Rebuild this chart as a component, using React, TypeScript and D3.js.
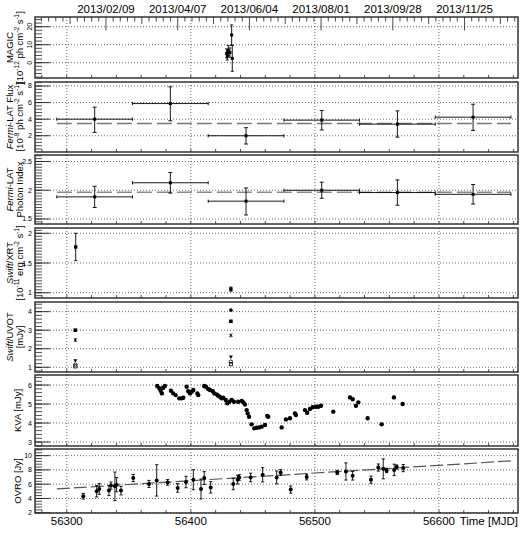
import React from 'react';
import * as d3 from 'd3';

const W = 520;
const H = 535;
const X0 = 35;
const X1 = 518;
const FONT = "'Liberation Sans', Arial, Helvetica, sans-serif";

// ---- time axis ----
const mjdTicks = [56300, 56400, 56500, 56600];
const dateMjd = [56331.6, 56389.4, 56447.2, 56505.0, 56562.8, 56620.6];
const dateLabels = ['2013/02/09', '2013/04/07', '2013/06/04', '2013/08/01', '2013/09/28', '2013/11/25'];

// ---- MAGIC ----
const magicMjd = [56428.9, 56429.4, 56430.2, 56431.5, 56432.9, 56433.4];
const magicFlux = [5.2, 3.7, 6.7, 5.6, 15.4, 2.4];
const magicErr = [2.5, 2.2, 2.8, 2.6, 5.6, 7.2];

// ---- Fermi-LAT (61 day bins) ----
const fermiEdges = [56292, 56353, 56414, 56475, 56536, 56597, 56658];
const fermiFlux = [4.0, 5.88, 2.0, 3.88, 3.4, 4.24];
const fermiFluxLo = [2.4, 3.8, 1.0, 2.7, 1.83, 2.64];
const fermiFluxHi = [5.45, 7.9, 2.97, 5.05, 5.0, 5.8];
const fermiFluxMean = 3.48;
const fermiIndex = [1.885, 2.13, 1.81, 2.0, 1.96, 1.93];
const fermiIndexLo = [1.70, 1.95, 1.57, 1.86, 1.74, 1.76];
const fermiIndexHi = [2.07, 2.31, 2.04, 2.14, 2.18, 2.10];
const fermiIndexMean = 1.965;

// ---- Swift/XRT ----
const xrtMjd = [56307.2, 56432.3];
const xrtFlux = [1.77, 1.06];
const xrtErr = [0.23, 0.035];

// ---- Swift/UVOT (one array per filter, two epochs) ----
const uvotMjd = [56306.9, 56432.3];
const uvotV = [3.0, 3.48];
const uvotB = [NaN, 4.08];
const uvotU = [2.47, 2.72];
const uvotW1 = [1.35, 1.55];
const uvotM2 = [1.15, 1.3];
const uvotW2 = [1.05, 1.17];

// ---- KVA ----
const kvaMjd = [
  56372.9, 56374.6, 56375.7, 56376.7, 56377.8, 56379.1, 56384.0, 56385.8, 56387.8, 56390.7,
  56392.6, 56393.9, 56396.6, 56397.9, 56399.3, 56400.7, 56402.0, 56405.2, 56406.0, 56410.8,
  56412.2, 56414.0, 56415.4, 56417.6, 56418.9, 56420.8, 56422.1, 56423.5, 56424.8, 56426.1,
  56428.1, 56429.4, 56431.0, 56432.9, 56434.8, 56438.2, 56441.0, 56442.3, 56443.6, 56445.0,
  56445.8, 56446.9, 56449.0, 56451.1, 56453.1, 56455.2, 56457.1, 56459.8, 56461.6, 56462.4,
  56473.2, 56476.7, 56479.9, 56483.9, 56484.7, 56492.0, 56493.8, 56496.0, 56498.2, 56500.9,
  56502.7, 56504.9, 56514.8, 56528.3, 56530.5, 56533.1, 56535.0, 56542.5, 56553.8, 56563.7,
  56570.7,
];
const kvaFlux = [
  5.95, 5.83, 5.70, 5.56, 5.86, 5.95, 5.70, 5.56, 5.47, 5.30,
  5.30, 5.33, 5.91, 5.68, 5.56, 5.65, 5.74, 5.56, 5.47, 5.95,
  5.91, 5.79, 5.74, 5.68, 5.56, 5.51, 5.44, 5.38, 5.30, 5.33,
  5.21, 5.04, 5.12, 5.21, 5.12, 5.12, 5.16, 5.09, 4.98, 4.68,
  4.51, 4.33, 3.93, 3.72, 3.75, 3.77, 3.81, 3.90, 4.37, 4.33,
  3.77, 4.19, 4.25, 4.51, 4.42, 4.68, 4.54, 4.74, 4.83, 4.86,
  4.86, 4.91, 4.60, 5.35, 5.25, 4.91, 5.09, 4.25, 3.93, 5.35,
  5.00,
];

// ---- OVRO ----
const ovroMjd = [
  56313.3, 56324.1, 56326.2, 56334.0, 56335.6, 56338.8, 56340.2, 56343.7, 56353.6, 56366.3,
  56372.5, 56381.3, 56389.4, 56396.1, 56402.0, 56408.2, 56410.8, 56416.0, 56434.2, 56437.7,
  56439.0, 56448.2, 56457.9, 56469.2, 56472.4, 56480.5, 56493.4, 56518.0, 56525.0, 56530.4,
  56545.2, 56551.1, 56555.1, 56557.8, 56563.9, 56565.9, 56571.2,
];
const ovroFlux = [
  4.31, 5.0, 5.33, 5.1, 5.8, 5.7, 5.93, 5.1, 6.86, 6.03,
  6.53, 6.25, 5.47, 6.3, 6.63, 5.33, 6.86, 5.55, 6.03, 6.63,
  6.94, 6.94, 7.32, 6.94, 7.64, 5.24, 7.0, 7.64, 7.78, 7.18,
  6.63, 8.33, 8.15, 7.92, 8.0, 8.4, 8.25,
];
const ovroErr = [
  0.4, 0.8, 0.75, 0.7, 0.5, 2.0, 1.0, 0.6, 0.5, 0.5,
  2.2, 0.4, 0.6, 0.8, 1.4, 1.4, 0.9, 0.8, 0.8, 0.6,
  0.4, 0.6, 1.0, 0.9, 0.4, 0.5, 0.4, 0.3, 1.2, 0.6,
  0.5, 0.5, 1.4, 0.3, 0.8, 0.3, 0.5,
];
const ovroFitMjd = [56292, 56658];
const ovroFitFlux = [5.33, 9.26];

// ---- panel layout ----
type Seg = { t: string; it?: boolean; sup?: boolean };
type Panel = {
  top: number; bottom: number; domain: [number, number];
  ticks: number[]; minor: number; rotLabels?: boolean; fmt?: (v: number) => string;
  title: Seg[][];
};

const panels: Panel[] = [
  { top: 17, bottom: 78, domain: [-8.5, 25.4], ticks: [0, 10, 20], minor: 2, rotLabels: true,
    title: [[{ t: 'MAGIC' }], [{ t: '[10' }, { t: '-12', sup: true }, { t: ' ph cm' }, { t: '-2', sup: true }, { t: ' s' }, { t: '-1', sup: true }, { t: ']' }]] },
  { top: 82, bottom: 152, domain: [0.04, 8.48], ticks: [2, 4, 6, 8], minor: 0.4,
    title: [[{ t: 'Fermi', it: true }, { t: '-LAT Flux' }], [{ t: '[10' }, { t: '-8', sup: true }, { t: ' ph cm' }, { t: '-2', sup: true }, { t: ' s' }, { t: '-1', sup: true }, { t: ']' }]] },
  { top: 155, bottom: 224, domain: [1.413, 2.613], ticks: [1.5, 2, 2.5], minor: 0.05,
    title: [[{ t: 'Fermi', it: true }, { t: '-LAT' }], [{ t: 'Photon Index' }]] },
  { top: 228, bottom: 298, domain: [0.911, 2.089], ticks: [1, 1.5, 2], minor: 0.05,
    title: [[{ t: 'Swift', it: true }, { t: '/XRT' }], [{ t: '[10' }, { t: '-11', sup: true }, { t: ' erg cm' }, { t: '-2', sup: true }, { t: ' s' }, { t: '-1', sup: true }, { t: ']' }]] },
  { top: 302, bottom: 372, domain: [0.746, 4.52], ticks: [1, 2, 3, 4], minor: 0.2,
    title: [[{ t: 'Swift', it: true }, { t: '/UVOT' }], [{ t: '[mJy]' }]] },
  { top: 375, bottom: 446, domain: [2.79, 6.53], ticks: [3, 4, 5, 6], minor: 0.2,
    title: [[{ t: 'KVA [mJy]' }]] },
  { top: 449, bottom: 513, domain: [1.96, 10.93], ticks: [2, 4, 6, 8, 10], minor: 0.4,
    title: [[{ t: 'OVRO [Jy]' }]] },
];

const x = d3.scaleLinear().domain([56274.4, 56663.7]).range([X0, X1]);
const yScales = panels.map((p) => d3.scaleLinear().domain(p.domain).range([p.bottom, p.top]));

const ErrV = ({ cx, y0, y1, cap = 2 }: { cx: number; y0: number; y1: number; cap?: number }) => (
  <g stroke="#000" strokeWidth={0.9}>
    <line x1={cx} x2={cx} y1={y0} y2={y1} />
    <line x1={cx - cap} x2={cx + cap} y1={y0} y2={y0} />
    <line x1={cx - cap} x2={cx + cap} y1={y1} y2={y1} />
  </g>
);

const ErrH = ({ x0, x1, cy, cap = 1.6 }: { x0: number; x1: number; cy: number; cap?: number }) => (
  <g stroke="#000" strokeWidth={0.9}>
    <line x1={x0} x2={x1} y1={cy} y2={cy} />
    <line x1={x0} x2={x0} y1={cy - cap} y2={cy + cap} />
    <line x1={x1} x2={x1} y1={cy - cap} y2={cy + cap} />
  </g>
);

const Sq = ({ cx, cy, s = 3.4, open = false }: { cx: number; cy: number; s?: number; open?: boolean }) => (
  <rect x={cx - s / 2} y={cy - s / 2} width={s} height={s}
    fill={open ? 'none' : '#000'} stroke="#000" strokeWidth={open ? 0.8 : 0} />
);

function Title({ lines, cy }: { lines: Seg[][]; cy: number }) {
  const bases = lines.length === 2 ? [12.5, 23] : [20.5];
  return (
    <g>
      {lines.map((line, li) => {
        let prevSup = false;
        return (
          <text key={li} transform={`translate(${bases[li]},${cy}) rotate(-90)`}
            textAnchor="middle" fontSize={9.5} fontFamily={FONT} fill="#000">
            {line.map((s, i) => {
              const dy = s.sup && !prevSup ? -3.6 : !s.sup && prevSup ? 3.6 : 0;
              prevSup = !!s.sup;
              return (
                <tspan key={i} dy={dy || undefined} fontStyle={s.it ? 'italic' : undefined}
                  fontSize={s.sup ? 6.5 : undefined}>{s.t}</tspan>
              );
            })}
          </text>
        );
      })}
    </g>
  );
}

function PanelFrame({ p, y }: { p: Panel; y: d3.ScaleLinear<number, number> }) {
  const [lo, hi] = p.domain;
  const minors = d3.range(Math.ceil(lo / p.minor) * p.minor, hi, p.minor);
  const xMinor = d3.range(56280, 56664, 20);
  const fmt = (v: number) => String(v);
  return (
    <g>
      {/* grid */}
      {mjdTicks.map((m) => (
        <line key={'gx' + m} x1={x(m)} x2={x(m)} y1={p.top} y2={p.bottom}
          stroke="#444" strokeWidth={0.8} strokeDasharray="1,2" />
      ))}
      {p.ticks.map((t) => (
        <line key={'gy' + t} x1={X0} x2={X1} y1={y(t)} y2={y(t)}
          stroke="#444" strokeWidth={0.8} strokeDasharray="1,2" />
      ))}
      {/* y minor/major ticks */}
      {minors.map((v, i) => (
        <line key={'my' + i} x1={X0} x2={X0 + 7} y1={y(v)} y2={y(v)} stroke="#222" strokeWidth={0.8} />
      ))}
      {p.ticks.map((t) => (
        <line key={'My' + t} x1={X0} x2={X0 + 15} y1={y(t)} y2={y(t)} stroke="#222" strokeWidth={0.9} />
      ))}
      {/* x ticks on bottom edge */}
      {xMinor.map((m) => (
        <line key={'mx' + m} x1={x(m)} x2={x(m)} y1={p.bottom} y2={p.bottom - 3} stroke="#222" strokeWidth={0.8} />
      ))}
      {/* tick labels */}
      {p.ticks.map((t) =>
        p.rotLabels ? (
          <text key={'l' + t} transform={`translate(31.5,${y(t)}) rotate(-90)`} textAnchor="middle"
            fontSize={7} fontFamily={FONT}>{fmt(t)}</text>
        ) : (
          <text key={'l' + t} x={32} y={y(t) + 2.5} textAnchor="end" fontSize={7} fontFamily={FONT}>{fmt(t)}</text>
        )
      )}
      <rect x={X0} y={p.top} width={X1 - X0} height={p.bottom - p.top} fill="none" stroke="#333" strokeWidth={1.5} />
      <Title lines={p.title} cy={(p.top + p.bottom) / 2} />
    </g>
  );
}

export default function App() {
  const [yMagic, yFlux, yIdx, yXrt, yUvot, yKva, yOvro] = yScales;
  const fermiCenters = d3.range(fermiFlux.length).map((i) => (fermiEdges[i] + fermiEdges[i + 1]) / 2);
  const topMinor = d3.range(-20, 80).map((k) => dateMjd[0] + (k * (dateMjd[1] - dateMjd[0])) / 10)
    .filter((m) => m > 56274.6 && m < 56663.5);
  const fitLine = d3.line<number>().x((_, i) => x(ovroFitMjd[i])).y((v) => yOvro(v));

  return (
    <svg width={W} height={H} style={{ position: 'absolute', left: 0, top: 0, background: '#fff' }}
      fontFamily={FONT}>
      <rect width={W} height={H} fill="#fff" />
      {panels.map((p, i) => <PanelFrame key={i} p={p} y={yScales[i]} />)}

      {/* top date axis */}
      {topMinor.map((m, i) => {
        const k = Math.round((m - dateMjd[0]) / ((dateMjd[1] - dateMjd[0]) / 10));
        const len = k % 10 === 0 ? 13.5 : k % 5 === 0 ? 7 : 4.5;
        return <line key={'tm' + i} x1={x(m)} x2={x(m)} y1={17} y2={17 + len} stroke="#222" strokeWidth={0.8} />;
      })}
      {dateMjd.map((m, i) => (
        <text key={'d' + i} x={x(m)} y={12.7} textAnchor="middle" fontSize={11.5}>{dateLabels[i]}</text>
      ))}

      {/* MAGIC */}
      {magicMjd.map((m, i) => (
        <g key={'mg' + i}>
          <ErrV cx={x(m)} y0={yMagic(magicFlux[i] + magicErr[i])} y1={yMagic(Math.max(magicFlux[i] - magicErr[i], -8.4))} cap={1.5} />
          <Sq cx={x(m)} cy={yMagic(magicFlux[i])} s={3} />
        </g>
      ))}

      {/* Fermi flux */}
      <line x1={x(fermiEdges[0])} x2={x(fermiEdges[fermiEdges.length - 1])} y1={yFlux(fermiFluxMean)} y2={yFlux(fermiFluxMean)}
        stroke="#777" strokeWidth={1.6} strokeDasharray="15,5" />
      {fermiFlux.map((f, i) => (
        <g key={'ff' + i}>
          <ErrH x0={x(fermiEdges[i])} x1={x(fermiEdges[i + 1])} cy={yFlux(f)} />
          <ErrV cx={x(fermiCenters[i])} y0={yFlux(fermiFluxHi[i])} y1={yFlux(fermiFluxLo[i])} />
          <Sq cx={x(fermiCenters[i])} cy={yFlux(f)} s={3} />
        </g>
      ))}

      {/* Fermi index */}
      <line x1={x(fermiEdges[0])} x2={x(fermiEdges[fermiEdges.length - 1])} y1={yIdx(fermiIndexMean)} y2={yIdx(fermiIndexMean)}
        stroke="#888" strokeWidth={1.6} strokeDasharray="15,5" />
      {fermiIndex.map((f, i) => (
        <g key={'fi' + i}>
          <ErrH x0={x(fermiEdges[i])} x1={x(fermiEdges[i + 1])} cy={yIdx(f)} />
          <ErrV cx={x(fermiCenters[i])} y0={yIdx(fermiIndexHi[i])} y1={yIdx(fermiIndexLo[i])} />
          <Sq cx={x(fermiCenters[i])} cy={yIdx(f)} s={3} />
        </g>
      ))}

      {/* XRT */}
      {xrtMjd.map((m, i) => (
        <g key={'x' + i}>
          <ErrV cx={x(m)} y0={yXrt(xrtFlux[i] + xrtErr[i])} y1={yXrt(xrtFlux[i] - xrtErr[i])} cap={1.5} />
          <Sq cx={x(m)} cy={yXrt(xrtFlux[i])} s={3.4} />
        </g>
      ))}

      {/* UVOT */}
      {uvotMjd.map((m, i) => {
        const cx = x(m);
        return (
          <g key={'u' + i}>
            {!isNaN(uvotB[i]) && <circle cx={cx} cy={yUvot(uvotB[i])} r={1.8} fill="#000" />}
            <Sq cx={cx} cy={yUvot(uvotV[i])} s={3.6} />
            <g stroke="#000" strokeWidth={0.9}>
              <line x1={cx - 1.6} x2={cx + 1.6} y1={yUvot(uvotU[i]) - 1.6} y2={yUvot(uvotU[i]) + 1.6} />
              <line x1={cx - 1.6} x2={cx + 1.6} y1={yUvot(uvotU[i]) + 1.6} y2={yUvot(uvotU[i]) - 1.6} />
              <line x1={cx} x2={cx} y1={yUvot(uvotU[i]) - 2} y2={yUvot(uvotU[i]) + 2} />
            </g>
            <path d={`M${cx - 2},${yUvot(uvotW1[i]) - 1.5}L${cx + 2},${yUvot(uvotW1[i]) - 1.5}L${cx},${yUvot(uvotW1[i]) + 1.8}Z`} fill="#000" />
            <circle cx={cx} cy={yUvot(uvotM2[i])} r={1.7} fill="none" stroke="#000" strokeWidth={0.8} />
            <Sq cx={cx} cy={yUvot(uvotW2[i])} s={3.2} open />
          </g>
        );
      })}

      {/* KVA */}
      {kvaMjd.map((m, i) => (
        <circle key={'k' + i} cx={x(m)} cy={yKva(kvaFlux[i])} r={2.2} fill="#000" />
      ))}

      {/* OVRO */}
      <path d={fitLine(ovroFitFlux) || ''} fill="none" stroke="#555" strokeWidth={1.2} strokeDasharray="13,4" />
      {ovroMjd.map((m, i) => (
        <g key={'o' + i}>
          <ErrV cx={x(m)} y0={yOvro(ovroFlux[i] + ovroErr[i])} y1={yOvro(ovroFlux[i] - ovroErr[i])} cap={1.6} />
          <circle cx={x(m)} cy={yOvro(ovroFlux[i])} r={2} fill="#000" />
        </g>
      ))}

      {/* bottom axis labels */}
      {mjdTicks.map((m) => (
        <text key={'b' + m} x={x(m)} y={524.5} textAnchor="middle" fontSize={11.5}>{m}</text>
      ))}
      <text x={518} y={524.5} textAnchor="end" fontSize={11.5}>Time [MJD]</text>
    </svg>
  );
}
